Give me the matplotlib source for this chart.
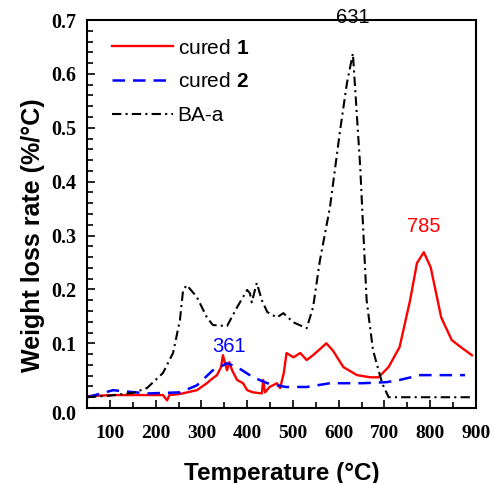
import matplotlib
matplotlib.use("Agg")
import matplotlib.pyplot as plt
from matplotlib.ticker import MultipleLocator
import matplotlib.transforms as mtransforms

plt.rcParams['font.family'] = ['Liberation Sans', 'DejaVu Sans']
plt.rcParams['mathtext.fontset'] = 'custom'
plt.rcParams['mathtext.rm'] = 'Liberation Sans'
plt.rcParams['mathtext.bf'] = 'Liberation Sans:bold'

# DTG curves: temperature (°C) and weight loss rate (%/°C)
temp_cured1 = [50, 107, 216, 225, 230, 253, 290, 312, 320, 334, 343, 347, 356, 361,
               367, 378, 391, 400, 413, 432, 435, 439, 449, 465, 472, 480, 486, 501,
               516, 530, 544, 573, 587, 610, 640, 669, 687, 709, 733, 756, 771, 786,
               801, 824, 847, 870, 891]
rate_cured1 = [0.002, 0.004, 0.004, -0.006, 0.004, 0.006, 0.013, 0.026, 0.032, 0.041,
               0.056, 0.078, 0.050, 0.065, 0.050, 0.032, 0.026, 0.013, 0.009, 0.007,
               0.032, 0.009, 0.019, 0.026, 0.017, 0.045, 0.082, 0.074, 0.082, 0.069,
               0.078, 0.100, 0.087, 0.056, 0.041, 0.037, 0.037, 0.056, 0.093, 0.180,
               0.249, 0.269, 0.241, 0.148, 0.106, 0.091, 0.078]

temp_cured2 = [50, 107, 181, 253, 290, 325, 356, 378, 413, 444, 484, 530, 581, 653,
               705, 733, 778, 824, 876]
rate_cured2 = [0.000, 0.013, 0.007, 0.009, 0.022, 0.050, 0.063, 0.056, 0.037, 0.026,
               0.019, 0.019, 0.026, 0.026, 0.028, 0.032, 0.041, 0.041, 0.041]

temp_baa = [50, 100, 150, 181, 216, 238, 253, 260, 268, 290, 312, 325, 356, 378, 400,
            406, 410, 421, 432, 444, 465, 479, 501, 530, 544, 559, 581, 603, 618, 631,
            647, 661, 675, 695, 709, 800, 890]
rate_baa = [0.000, 0.003, 0.008, 0.017, 0.045, 0.082, 0.143, 0.199, 0.208, 0.186,
            0.148, 0.134, 0.132, 0.167, 0.199, 0.193, 0.176, 0.212, 0.180, 0.158,
            0.148, 0.156, 0.139, 0.128, 0.167, 0.254, 0.353, 0.495, 0.583, 0.638,
            0.427, 0.180, 0.087, 0.026, 0.000, 0.000, 0.000]

# peak maxima that get a temperature label
peak_temps = [631, 785, 361]
peak_rates = [0.638, 0.269, 0.063]
peak_colors = ['black', 'red', 'blue']
peak_gaps = [0.066, 0.047, 0.031]

ytick_vals = [0.0, 0.1, 0.2, 0.3, 0.4, 0.5, 0.6, 0.7]

fig = plt.figure(figsize=(4.93, 4.83), dpi=100)
ax = fig.add_axes([87 / 493, 75 / 483, 389 / 493, 388 / 483])

ax.plot(temp_cured1, rate_cured1, color='red', lw=1.7, label=r'cured $\mathbf{1}$')
ax.plot(temp_cured2, rate_cured2, color='blue', lw=1.8, ls=(0, (5, 3.2)),
        label=r'cured $\mathbf{2}$')
ax.plot(temp_baa, rate_baa, color='black', lw=1.5, ls=(0, (4.5, 2, 1, 2)), label='BA-a')

for t, r, c, g in zip(peak_temps, peak_rates, peak_colors, peak_gaps):
    ax.text(t, r + g, str(t), color=c, fontsize=14.5, ha='center', va='center',
            clip_on=False)

ax.set_xlim(50, 900)
ax.set_ylim(-0.02, 0.7)
ax.set_xticks(range(100, 901, 100))
ax.xaxis.set_minor_locator(MultipleLocator(50))
ax.set_yticks(ytick_vals)
ax.set_yticklabels([f'{v:.1f}' for v in ytick_vals])
ax.yaxis.set_minor_locator(MultipleLocator(0.02))
ax.tick_params(which='both', direction='in', top=False, right=False, width=1.2)
ax.tick_params(which='major', length=6)
ax.tick_params(which='minor', length=4)
ax.tick_params(axis='x', which='major', pad=12)
ax.tick_params(axis='y', which='major', pad=8)
for lab in ax.get_xticklabels():
    lab.set_family('Liberation Serif')
    lab.set_fontweight('bold')
    lab.set_fontsize(14)
for lab in ax.get_yticklabels():
    lab.set_family('Liberation Serif')
    lab.set_fontweight('bold')
    lab.set_fontsize(14.5)
# the zero label sits a little lower, clear of the x axis
zero = ax.get_yticklabels()[0]
zero.set_transform(zero.get_transform() +
                   mtransforms.ScaledTranslation(0, -11 / 72, fig.dpi_scale_trans))

for s in ax.spines.values():
    s.set_linewidth(1.5)

ax.set_xlabel('Temperature (°C)', fontsize=17.5, fontweight='bold')
ax.set_ylabel('Weight loss rate (%/°C)', fontsize=18, fontweight='bold')
ax.xaxis.set_label_coords(0.5, -0.138)
ax.yaxis.set_label_coords(-0.108, 0.446)

ax.legend(loc='upper left', bbox_to_anchor=(0.016, 1.0), frameon=False, fontsize=15,
          handlelength=2.95, handletextpad=0.2, labelspacing=0.7, borderaxespad=0.5)

fig.savefig('out.png', dpi=100)
